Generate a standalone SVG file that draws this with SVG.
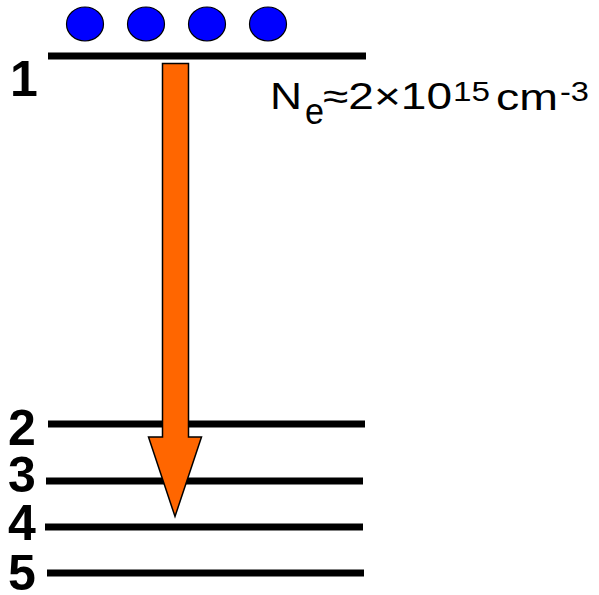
<svg xmlns="http://www.w3.org/2000/svg" width="599" height="595" viewBox="0 0 599 595">
<style>
.lvl{stroke:#000;stroke-width:7;fill:none}
.num{font-family:"Liberation Sans",Arial,sans-serif;font-weight:bold;font-size:50px;fill:#000}
.el{fill:#0000ff;stroke:#000;stroke-width:1.2}
.lbl{font-family:"Liberation Sans",Arial,sans-serif;font-size:37px;fill:#000}
.sup{font-family:"Liberation Sans",Arial,sans-serif;font-size:28px;fill:#000}
</style>
<rect width="599" height="595" fill="#fff"/>
<g id="level1"><line class="lvl" x1="48" y1="56" x2="366" y2="56"/><text class="num" x="10" y="96">1</text></g>
<g id="level2"><line class="lvl" x1="48" y1="424" x2="365" y2="424"/><text class="num" x="8" y="445">2</text></g>
<g id="level3"><line class="lvl" x1="46" y1="481" x2="363" y2="481"/><text class="num" x="8" y="492">3</text></g>
<g id="level4"><line class="lvl" x1="45" y1="527" x2="363" y2="527"/><text class="num" x="8" y="540">4</text></g>
<g id="level5"><line class="lvl" x1="47" y1="573" x2="364" y2="573"/><text class="num" x="8" y="590">5</text></g>
<g id="electrons">
<ellipse class="el" cx="85" cy="24" rx="18.5" ry="17"/>
<ellipse class="el" cx="146" cy="24" rx="18.5" ry="17"/>
<ellipse class="el" cx="207" cy="24" rx="18.5" ry="17"/>
<ellipse class="el" cx="268" cy="24" rx="18.5" ry="17"/>
</g>
<g id="connectors">
<path d="M162.5,63.5 H188.5 V437 H201.5 L175,516.5 L148.5,437 H162.5 Z" fill="#ff6600" stroke="#000" stroke-width="1.5" stroke-linejoin="miter"/>
</g>
<g id="density">
<text class="lbl" x="270" y="109" textLength="32" lengthAdjust="spacingAndGlyphs">N</text>
<text class="lbl" x="305" y="124" textLength="19" lengthAdjust="spacingAndGlyphs">e</text>
<text class="lbl" x="323" y="109" textLength="129" lengthAdjust="spacingAndGlyphs">≈2×10</text>
<text class="sup" x="453" y="101" textLength="37" lengthAdjust="spacingAndGlyphs">15</text>
<text class="lbl" x="496" y="110" textLength="62" lengthAdjust="spacingAndGlyphs">cm</text>
<text class="sup" x="560" y="101" textLength="29" lengthAdjust="spacingAndGlyphs">-3</text>
</g>
</svg>
